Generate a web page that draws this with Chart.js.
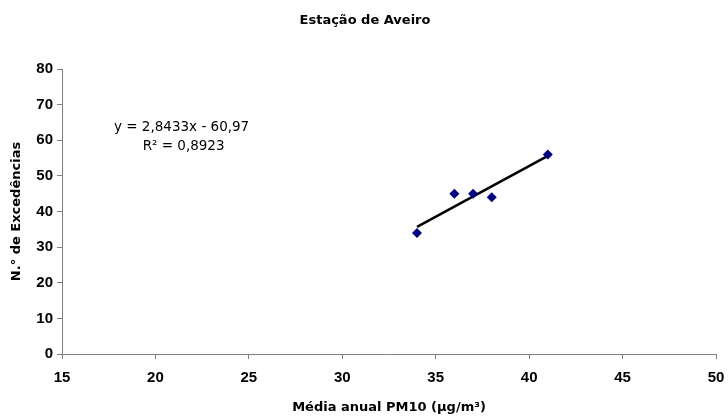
<!DOCTYPE html>
<html>
<head>
<meta charset="utf-8">
<script src="https://cdn.jsdelivr.net/npm/chart.js@4/dist/chart.umd.min.js"></script>
<style>
  html, body { margin: 0; padding: 0; background: #fff; }
  #wrap { width: 728px; height: 416px; }
</style>
</head>
<body>
<div id="wrap"><canvas id="aveiroChart" width="728" height="416"></canvas></div>
<script>
// dados da estação
const mediaPM10 = [34, 36, 37, 38, 41];
const excedencias = [34, 45, 45, 44, 56];
const xTicks = [15, 20, 25, 30, 35, 40, 45, 50];
const yTicks = [0, 10, 20, 30, 40, 50, 60, 70, 80];
const declive = 2.8433;
const ordenada = -60.97;
const r2 = "0,8923";

const pontos = mediaPM10.map((x, i) => ({ x: x, y: excedencias[i] }));
const xMin = Math.min(...mediaPM10), xMax = Math.max(...mediaPM10);
const tendencia = [xMin, xMax].map(x => ({ x: x, y: declive * x + ordenada }));

const fonteTick = { family: "'Liberation Sans', Arial, sans-serif", size: 15, weight: "bold" };
const fonteTitulo = { family: "'DejaVu Sans', Verdana, sans-serif", size: 13, weight: "bold" };

// escreve a equação da recta de tendência e o titulo
const equacao = {
  id: "equacao",
  afterDraw(chart) {
    const c = chart.ctx;
    const xs = chart.scales.x, ys = chart.scales.y;
    const px = xs.getPixelForValue(21.4);
    const py = ys.getPixelForValue(63.7);
    c.save();
    c.fillStyle = "#000";
    c.font = "13.5px 'DejaVu Sans', Tahoma, sans-serif";
    c.textAlign = "center";
    c.textBaseline = "middle";
    c.fillText("y = " + String(declive).replace(".", ",") + "x - " + String(-ordenada).replace(".", ","), px, py);
    c.fillText("R\u00B2 = " + r2, px + 2, py + 19);
    c.font = "bold 13px 'DejaVu Sans', Tahoma, sans-serif";
    c.fillText("Estação de Aveiro", 365, 21);
    c.restore();
  }
};

new Chart(document.getElementById("aveiroChart").getContext("2d"), {
  type: "scatter",
  data: {
    datasets: [
      {
        label: "Excedências",
        data: pontos,
        pointStyle: "rectRot",
        pointRadius: 5,
        backgroundColor: "#000080",
        borderColor: "#000080",
        borderWidth: 0,
      },
      {
        type: "line",
        label: "Linear",
        data: tendencia,
        borderColor: "#000",
        borderWidth: 2.5,
        pointRadius: 0,
        fill: false,
      },
    ],
  },
  options: {
    responsive: false,
    animation: false,
    layout: { padding: { top: 69, right: 12, bottom: 0, left: 0 } },
    plugins: {
      legend: { display: false },
      tooltip: { enabled: false },
      title: { display: false },
    },
    scales: {
      x: {
        type: "linear",
        min: 15,
        max: 50,
        afterBuildTicks: s => { s.ticks = xTicks.map(v => ({ value: v })); },
        afterFit: s => { s.height = 62; s.paddingLeft = 0; s.paddingRight = 0; },
        grid: { drawOnChartArea: false, tickLength: 5, color: "#808080" },
        border: { color: "#808080", width: 1 },
        ticks: { color: "#000", font: fonteTick, padding: 10, maxRotation: 0 },
        title: {
          display: true,
          text: "Média anual PM10 (µg/m³)",
          color: "#000",
          font: fonteTitulo,
          padding: { top: 6, bottom: 1 },
        },
      },
      y: {
        min: 0,
        max: 80,
        afterBuildTicks: s => { s.ticks = yTicks.map(v => ({ value: v })); },
        afterFit: s => { s.width = 62; s.paddingTop = 0; s.paddingBottom = 0; },
        grid: { drawOnChartArea: false, tickLength: 5, color: "#808080" },
        border: { color: "#808080", width: 1 },
        ticks: { color: "#000", font: fonteTick, padding: 4 },
        title: {
          display: true,
          text: "N.° de Excedências",
          color: "#000",
          font: fonteTitulo,
          padding: { top: 9, bottom: 4 },
        },
      },
    },
  },
  plugins: [equacao],
});
</script>
</body>
</html>
